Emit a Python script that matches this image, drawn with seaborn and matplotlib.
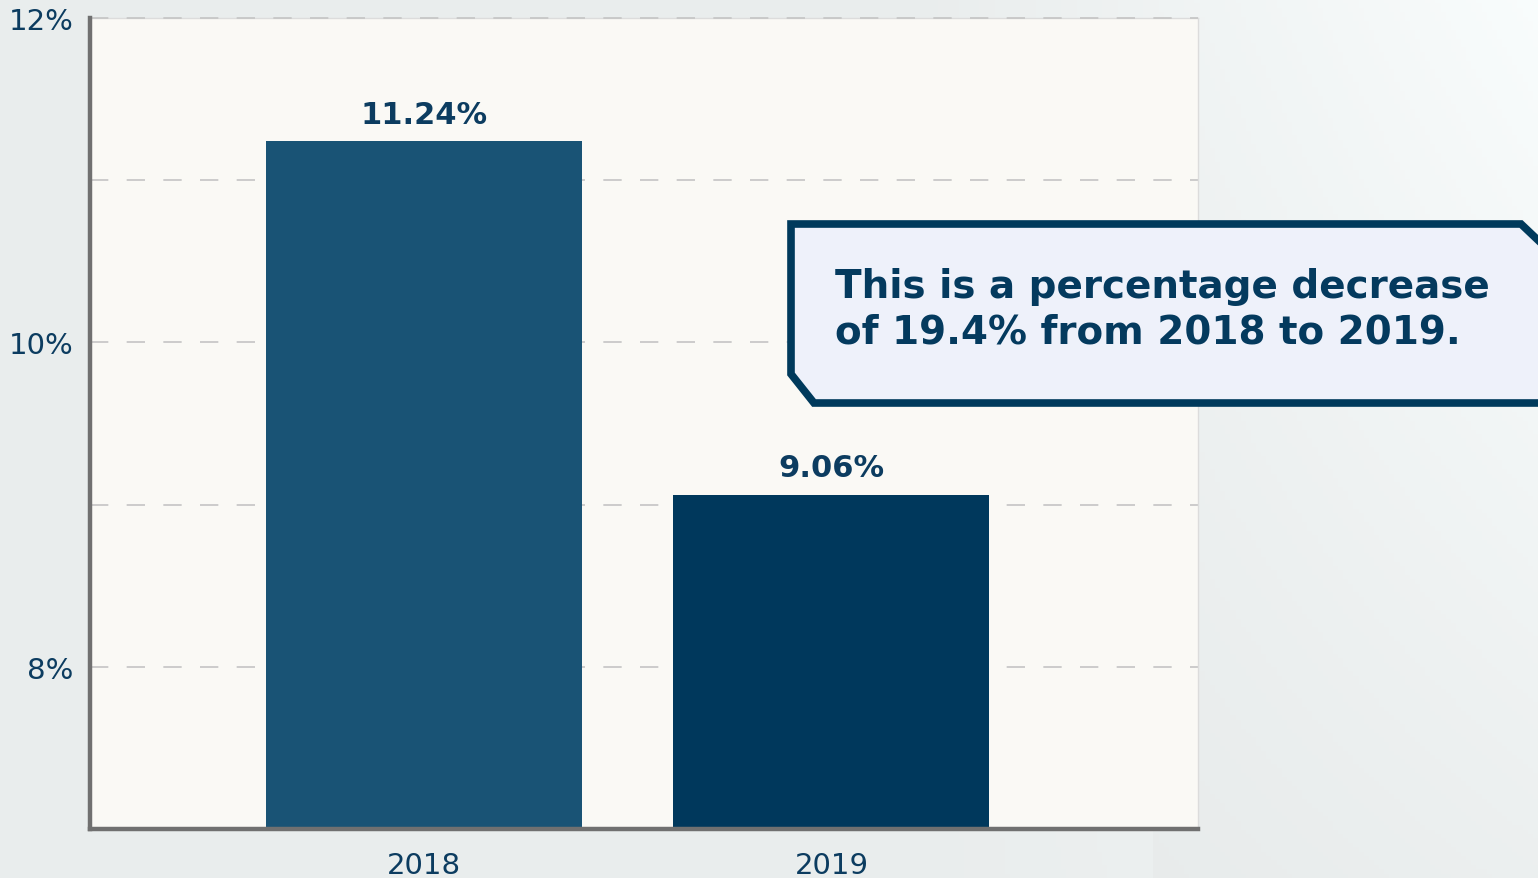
import numpy as np
import pandas as pd
import matplotlib
matplotlib.use("Agg")
import matplotlib.pyplot as plt
from matplotlib.patches import Polygon
import seaborn as sns

# ---- data ----
years = ["2018", "2019"]
rates = [11.24, 9.06]
bar_labels = ["11.24%", "9.06%"]
ytick_vals = [8, 10, 12]
ytick_labels = ["8%", "10%", "12%"]
grid_vals = [8, 9, 10, 11, 12]
callout_text = "This is a percentage decrease\nof 19.4% from 2018 to 2019."

bar_colors = ["#195375", "#00385C"]
navy = "#0C3C60"

sns.set_theme(style="white")
plt.rcParams['font.family'] = ['DejaVu Sans']

W, H = 1538, 879
fig = plt.figure(figsize=(W / 100, H / 100), dpi=100)

# background (soft sky-like gradient)
bg = fig.add_axes([0, 0, 1, 1], zorder=-10)
gx = np.linspace(0, 1, 300)
gy = np.linspace(0, 1, 200)
GX, GY = np.meshgrid(gx, gy)
val = 0.93 + 0.06 * np.clip((GX - 0.6) * 2.5, 0, 1) * (1 - GY * 0.6) - 0.015 * GY * (GX > 0.75)
rgb = np.dstack([val * 0.985, val * 1.0, val * 1.0])
bg.imshow(np.clip(rgb, 0, 1), aspect="auto", extent=[0, 1, 0, 1], origin="upper")
bg.axis("off")

ax = fig.add_axes([90 / W, 1 - 830 / H, (1198 - 90) / W, (830 - 19) / H])
ax.set_facecolor("#FAF9F5")

df = pd.DataFrame({"year": years, "rate": rates})
sns.barplot(data=df, x="year", y="rate", hue="year", palette=bar_colors,
            width=0.776, legend=False, ax=ax, saturation=1, zorder=3,
            linewidth=0)

ax.set_ylim(7, 12)
ax.set_xlim(-0.82, 1.90)

for g in grid_vals:
    ax.axhline(g, color="#C4C4C4", lw=1.2, ls=(0, (11, 11)),
               zorder=1 if g < 12 else 6, clip_on=False)

ax.set_yticks(ytick_vals)
ax.set_yticklabels(ytick_labels, color=navy, fontsize=21)
ax.tick_params(axis="y", length=0, pad=12)
ax.tick_params(axis="x", length=0, pad=16, labelsize=21, labelcolor=navy)
ax.set_xlabel("")
ax.set_ylabel("")

for side in ["left", "bottom"]:
    ax.spines[side].set_color("#707070")
    ax.spines[side].set_linewidth(3.2)
    ax.spines[side].set_zorder(7)
for side in ["top", "right"]:
    ax.spines[side].set_color("#DCDCDC")
    ax.spines[side].set_linewidth(1)

for i, (v, lab) in enumerate(zip(rates, bar_labels)):
    ax.annotate(lab, xy=(i, v), xytext=(0, 9), textcoords="offset points",
                ha="center", va="bottom", fontsize=22, fontweight="bold",
                color=navy, zorder=5)

# callout box
def fp(x, y):
    return (x / W, 1 - y / H)

pts = [fp(791, 225), fp(1521, 225), fp(1560, 262), fp(1560, 404),
       fp(814, 404), fp(791, 375)]
poly = Polygon(pts, closed=True, transform=fig.transFigure, facecolor="#EEF1FA",
               edgecolor="#003A5C", linewidth=5.5, joinstyle="miter", zorder=20)
fig.patches.append(poly)
fig.text(835 / W, 1 - 310 / H, callout_text, ha="left", va="center",
         fontsize=28, fontweight="bold", color="#043A5E", linespacing=1.25,
         zorder=21)

fig.savefig("out.png", dpi=100)
